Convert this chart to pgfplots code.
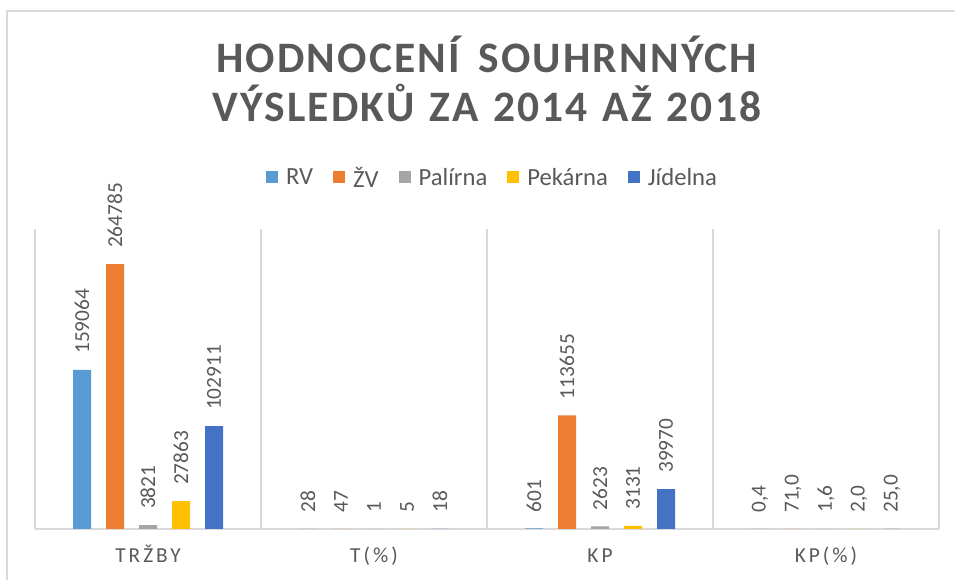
\documentclass[border=0pt]{standalone}
\usepackage{pgfplots}
\pgfplotsset{compat=1.18}
\usepackage{fontspec}
\setmainfont{Carlito}
\newfontfamily\titlefont[LetterSpace=5]{Carlito}
\newfontfamily\spacedfont[LetterSpace=14]{Carlito}
\definecolor{cRV}{HTML}{5B9BD5}
\definecolor{cZV}{HTML}{ED7D31}
\definecolor{cPal}{HTML}{A5A5A5}
\definecolor{cPek}{HTML}{FFC000}
\definecolor{cJid}{HTML}{4472C4}
\definecolor{txt}{HTML}{595959}
\definecolor{gridc}{HTML}{D9D9D9}
\begin{document}
\begin{tikzpicture}
\useasboundingbox (0,0) rectangle (716.25pt,435pt);
\draw[gridc, line width=1.1pt] (5.25pt,-2pt) -- (5.25pt,426.75pt) -- (720pt,426.75pt);
\node[anchor=base, inner sep=0pt, text=txt, font=\titlefont\bfseries\fontsize{32.6}{36}\selectfont] at (364.9pt,380.25pt) {HODNOCENÍ\hspace{0.42em}SOUHRNNÝCH};
\node[anchor=base, inner sep=0pt, text=txt, font=\titlefont\bfseries\fontsize{32.6}{36}\selectfont] at (365.25pt,343.5pt) {VÝSLEDKŮ\hspace{0.34em}ZA\hspace{0.34em}2014\hspace{0.34em}AŽ\hspace{0.34em}2018};
\begin{axis}[
  at={(26.25pt,38.25pt)}, anchor=south west,
  scale only axis, width=678pt, height=225pt,
  xmin=-0.5, xmax=3.5, ymin=0, ymax=300000,
  ybar=11.25pt, bar width=13.5pt,
  axis x line*=bottom, axis y line=none, ytick=\empty,
  xtick={0,1,2,3}, xticklabels={TRŽBY, T(\%), KP, KP(\%)},
  major tick length=0pt, minor tick length=0pt,
  minor xtick={-0.5,0.5,1.5,2.5,3.5}, xminorgrids,
  minor grid style={gridc, line width=1.1pt},
  axis line style={gridc, line width=1.1pt},
  xticklabel style={font=\spacedfont\fontsize{16}{19}\selectfont, text=txt, anchor=base, yshift=-25.5pt},
  clip=false,
  nodes near coords, point meta=explicit symbolic,
  every node near coord/.append style={font=\fontsize{16}{19}\selectfont, text=txt, rotate=90, anchor=west, inner xsep=12pt, inner ysep=0pt},
  every axis plot post/.append style={legend image code/.code={\fill[##1] (0pt,-4pt) rectangle (9pt,5pt);}},
  legend style={draw=none, fill=none, at={(0.505,1.17)}, anchor=center, legend columns=-1,
    font=\fontsize{18.5}{22}\selectfont, text=txt,
    cells={anchor=west}, nodes={inner xsep=0pt, inner ysep=1pt},
    /tikz/every odd column/.append style={column sep=6pt},
    /tikz/every even column/.append style={column sep=15pt}},
]
\addplot[fill=cRV, draw=none] table[meta=l] {
x y l
0 159064 159064
1 28 28
2 601 601
3 0.4 0,4
};
\addplot[fill=cZV, draw=none] table[meta=l] {
x y l
0 264785 264785
1 47 47
2 113655 113655
3 71.0 71,0
};
\addplot[fill=cPal, draw=none] table[meta=l] {
x y l
0 3821 3821
1 1 1
2 2623 2623
3 1.6 1,6
};
\addplot[fill=cPek, draw=none] table[meta=l] {
x y l
0 27863 27863
1 5 5
2 3131 3131
3 2.0 2,0
};
\addplot[fill=cJid, draw=none] table[meta=l] {
x y l
0 102911 102911
1 18 18
2 39970 39970
3 25.0 25,0
};
\legend{RV,ŽV,Palírna,Pekárna,Jídelna}
\end{axis}
\end{tikzpicture}
\end{document}
